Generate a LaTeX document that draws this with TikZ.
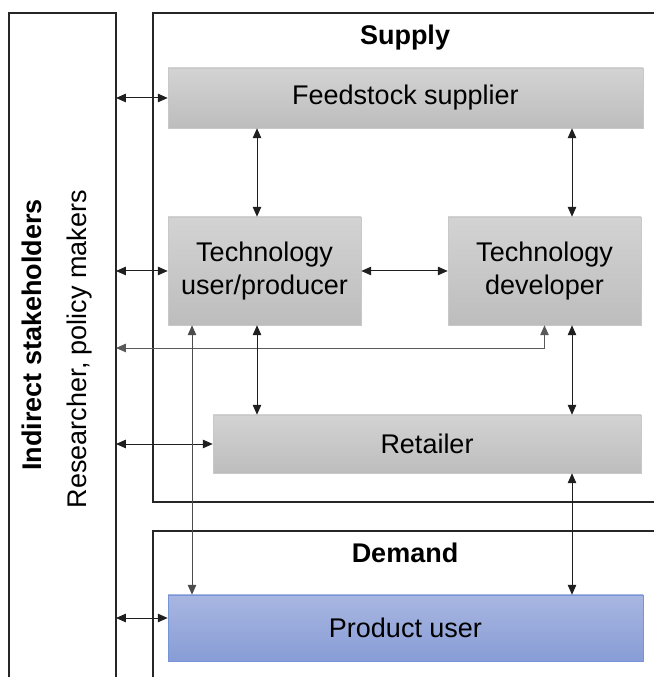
\documentclass[tikz,border=0pt]{standalone}
\usepackage{fontspec}
\setmainfont{Liberation Sans}
\usepackage{xcolor}
\usetikzlibrary{arrows.meta}

\definecolor{boxtop}{RGB}{211,211,211}
\definecolor{boxbot}{RGB}{189,189,189}
\definecolor{boxline}{RGB}{200,200,200}
\definecolor{usertop}{RGB}{168,182,225}
\definecolor{userbot}{RGB}{136,157,214}
\definecolor{userline}{RGB}{118,148,216}

\begin{document}
\begin{tikzpicture}[font=\fontsize{19.2}{23.5}\selectfont,
    actor/.style={draw=boxline,top color=boxtop,bottom color=boxbot,align=center,inner sep=0pt},
    useractor/.style={actor,draw=userline,top color=usertop,bottom color=userbot},
    frame/.style={line width=1.1pt,black!85},
    link/.style={<->,>={Triangle[length=7pt,width=6pt]},line width=0.7pt,black!88}]
      \useasboundingbox (0,0) rectangle (16.325,16.925);
      % outer frames
      \draw [frame] (0.225,-0.1) -- (0.225,16.6) -- (2.9,16.6) -- (2.9,-0.1);
      \draw [frame] (16.4,16.6) -- (3.825,16.6) -- (3.825,4.375) -- (16.4,4.375);
      \draw [frame] (16.4,3.65) -- (3.825,3.65) -- (3.825,-0.1);
      \node[rotate=90,font=\fontsize{19.2}{23.5}\selectfont\bfseries] (indirect) at (0.8,8.55) {Indirect stakeholders};
      \node[rotate=90] (research) at (2.0,8.2) {Researcher, policy makers};
      \node[font=\fontsize{19.2}{23.5}\selectfont\bfseries] (supply) at (10.125,15.975) {Supply};
      \node[font=\fontsize{19.2}{23.5}\selectfont\bfseries] (demand) at (10.125,3.1) {Demand};
      % actors
      \node[actor,minimum width=11.875cm,minimum height=1.5cm] (feed) at (10.1375,14.475) {Feedstock supplier};
      \node[actor,minimum width=4.825cm,minimum height=2.7cm] (techuser) at (6.6125,10.15) {Technology\\user/producer};
      \node[actor,minimum width=4.825cm,minimum height=2.7cm] (techdev) at (13.6125,10.15) {Technology\\developer};
      \node[actor,minimum width=10.7cm,minimum height=1.45cm] (retail) at (10.675,5.825) {Retailer};
      \node[useractor,minimum width=11.875cm,minimum height=1.65cm] (produser) at (10.1375,1.225) {Product user};
      % helper points
      \coordinate (edge) at (2.9,0);
      \coordinate (bend) at (2.9,8.225);
      \coordinate (colA) at (6.425,0);
      \coordinate (colB) at (14.3,0);
      \coordinate (colC) at (4.8,0);
      % links
      \draw [link] (edge |- feed.west) -- (feed.west);
      \draw [link] (edge |- techuser.west) -- (techuser.west);
      \draw [link] (edge |- retail.west) -- (retail.west);
      \draw [link] (edge |- 0,1.475) -- (produser.west |- 0,1.475);
      \draw [link,black!65] (bend) -| (techdev.south);
      \draw [link] (techuser.east) -- (techdev.west);
      \draw [link] (feed.south -| colA) -- (techuser.north -| colA);
      \draw [link] (feed.south -| colB) -- (techdev.north -| colB);
      \draw [link] (techuser.south -| colA) -- (retail.north -| colA);
      \draw [link] (techdev.south -| colB) -- (retail.north -| colB);
      \draw [link] (retail.south -| colB) -- (produser.north -| colB);
      \draw [link,black!70] (techuser.south -| colC) -- (produser.north -| colC);
    \end{tikzpicture}
\end{document}
